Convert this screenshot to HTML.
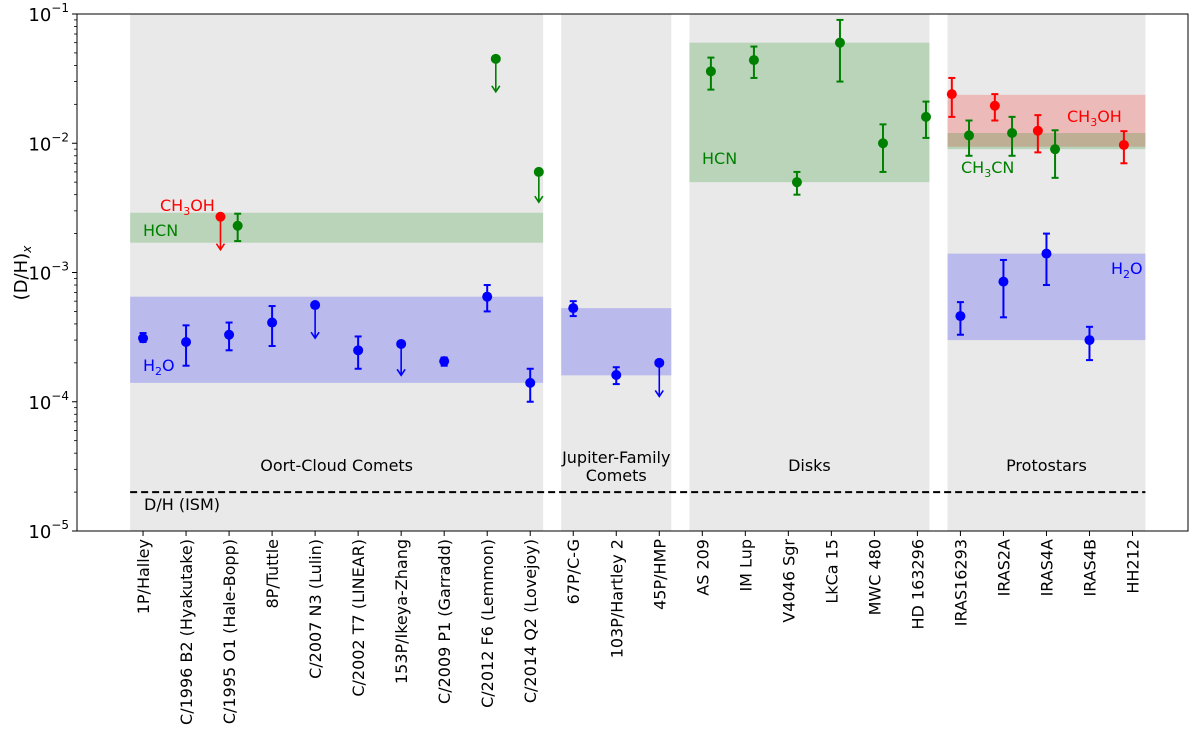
<!DOCTYPE html>
<html><head><meta charset="utf-8"><style>
body{margin:0;background:#fff;}
svg{display:block;font-family:"DejaVu Sans","Liberation Sans",sans-serif;}
</style></head><body>
<svg id="chart" width="1200" height="731" viewBox="0 0 1200 731"></svg>
<script>
const categories=["1P/Halley","C/1996 B2 (Hyakutake)","C/1995 O1 (Hale-Bopp)","8P/Tuttle","C/2007 N3 (Lulin)","C/2002 T7 (LINEAR)","153P/Ikeya-Zhang","C/2009 P1 (Garradd)","C/2012 F6 (Lemmon)","C/2014 Q2 (Lovejoy)","67P/C-G","103P/Hartley 2","45P/HMP","AS 209","IM Lup","V4046 Sgr","LkCa 15","MWC 480","HD 163296","IRAS16293","IRAS2A","IRAS4A","IRAS4B","HH212"];
// [index, value, low, high, upperLimit(1/0), arrowTo]
const h2oPoints=[[0,3.1e-4,2.9e-4,3.4e-4,0,0],[1,2.9e-4,1.9e-4,3.9e-4,0,0],[2,3.3e-4,2.5e-4,4.1e-4,0,0],[3,4.1e-4,2.7e-4,5.5e-4,0,0],[4,5.6e-4,0,0,1,3.1e-4],[5,2.5e-4,1.8e-4,3.2e-4,0,0],[6,2.8e-4,0,0,1,1.6e-4],[7,2.06e-4,1.9e-4,2.2e-4,0,0],[8,6.5e-4,5.0e-4,8.0e-4,0,0],[9,1.4e-4,1.0e-4,1.8e-4,0,0],[10,5.3e-4,4.6e-4,6.0e-4,0,0],[11,1.61e-4,1.37e-4,1.85e-4,0,0],[12,2.0e-4,0,0,1,1.1e-4],[19,4.6e-4,3.3e-4,5.9e-4,0,0],[20,8.5e-4,4.5e-4,1.25e-3,0,0],[21,1.4e-3,8e-4,2.0e-3,0,0],[22,3.0e-4,2.1e-4,3.8e-4,0,0]];
const hcnPoints=[[2,2.3e-3,1.75e-3,2.85e-3,0,0],[8,4.5e-2,0,0,1,2.5e-2],[9,6.0e-3,0,0,1,3.5e-3],[13,3.6e-2,2.6e-2,4.6e-2,0,0],[14,4.4e-2,3.2e-2,5.6e-2,0,0],[15,5.0e-3,4.0e-3,6.0e-3,0,0],[16,6.0e-2,3.0e-2,9.0e-2,0,0],[17,1.0e-2,6.0e-3,1.4e-2,0,0],[18,1.6e-2,1.1e-2,2.1e-2,0,0],[19,1.15e-2,8.0e-3,1.5e-2,0,0],[20,1.2e-2,8.0e-3,1.6e-2,0,0],[21,9.0e-3,5.4e-3,1.26e-2,0,0]];
const ch3ohPoints=[[2,2.7e-3,0,0,1,1.5e-3],[19,2.4e-2,1.6e-2,3.2e-2,0,0],[20,1.95e-2,1.5e-2,2.4e-2,0,0],[21,1.25e-2,8.5e-3,1.65e-2,0,0],[23,9.7e-3,7.0e-3,1.24e-2,0,0]];
// bands: [startIdx, endIdx, low, high]
const h2oBands=[[-0.3,9.3,1.4e-4,6.5e-4],[9.72,12.28,1.6e-4,5.3e-4],[18.7,23.3,3.0e-4,1.4e-3]];
const hcnBands=[[-0.3,9.3,1.7e-3,2.9e-3],[12.7,18.28,5.0e-3,6.0e-2],[18.7,23.3,9.0e-3,1.2e-2]];
const ch3ohBands=[[18.7,23.3,9.4e-3,2.37e-2]];
const groups=[[-0.3,9.3,"Oort-Cloud Comets"],[9.72,12.28,"Jupiter-Family|Comets"],[12.7,18.28,"Disks"],[18.7,23.3,"Protostars"]];
const ismValue=2e-5;
const yTicks=[-5,-4,-3,-2,-1];

const L=77,R=1188,T=14,B=531;
const X0=-1.535,X1=24.29;
function xs(i){return L+(i-X0)/(X1-X0)*(R-L);}
function ys(v){return B-(Math.log10(v)+5)/4*(B-T);}
const svg=document.getElementById('chart');
const NS="http://www.w3.org/2000/svg";
function mk(tag,attrs,parent){const e=document.createElementNS(NS,tag);for(const k in attrs)e.setAttribute(k,attrs[k]);(parent||svg).appendChild(e);return e;}

groups.forEach(g=>{
 const r=mk('rect',{x:xs(g[0]),y:T,width:xs(g[1])-xs(g[0]),height:B-T,fill:'#e9e9e9'});
 
 
});
function bands(arr,color,op,name){arr.forEach(b=>{
 const r=mk('rect',{x:xs(b[0]),y:ys(b[3]),width:xs(b[1])-xs(b[0]),height:ys(b[2])-ys(b[3]),fill:color,'fill-opacity':op});
 
 
});}
bands(h2oBands,'#0000ff',0.2,'h2o-band');
bands(ch3ohBands,'#ff0000',0.2,'ch3oh-band');
bands(hcnBands,'#008000',0.2,'hcn-band');

const ism=mk('line',{x1:xs(-0.3),x2:xs(23.3),y1:ys(ismValue),y2:ys(ismValue),stroke:'#000','stroke-width':2,'stroke-dasharray':'7,4'});



function pts(arr,color,off,name){arr.forEach(p=>{
 const x=xs(p[0]+off),y=ys(p[1]);
 const g=mk('g',{});
 
 
 if(p[4]){
  const y2=ys(p[5]);
  mk('line',{x1:x,x2:x,y1:y,y2:y2,stroke:color,'stroke-width':1.6},g);
  mk('path',{d:`M${x-4},${y2-6} L${x},${y2} L${x+4},${y2-6}`,fill:'none',stroke:color,'stroke-width':1.6},g);
 }else{
  const a=ys(p[3]),b=ys(p[2]);
  mk('line',{x1:x,x2:x,y1:a,y2:b,stroke:color,'stroke-width':2},g);
  mk('line',{x1:x-3.5,x2:x+3.5,y1:a,y2:a,stroke:color,'stroke-width':2},g);
  mk('line',{x1:x-3.5,x2:x+3.5,y1:b,y2:b,stroke:color,'stroke-width':2},g);
 }
 mk('circle',{cx:x,cy:y,r:5,fill:color},g);
});}
pts(h2oPoints,'#0000ff',0,'h2o-point');
pts(hcnPoints,'#008000',0.2,'hcn-point');
pts(ch3ohPoints,'#ff0000',-0.2,'ch3oh-point');

function txt(x,y,s,attrs,name){const t=mk('text',Object.assign({x:x,y:y,'font-size':16},attrs||{}));t.innerHTML=s;return t;}
txt(143,371,'H<tspan font-size="11" dy="4">2</tspan><tspan dy="-4">O</tspan>',{fill:'#0000ff'},'h2o-label-oort');
txt(143,236,'HCN',{fill:'#008000'},'hcn-label-oort');
txt(160,211,'CH<tspan font-size="11" dy="4">3</tspan><tspan dy="-4">OH</tspan>',{fill:'#ff0000'},'ch3oh-label-oort');
txt(702,164,'HCN',{fill:'#008000'},'hcn-label-disks');
txt(1067,122,'CH<tspan font-size="11" dy="4">3</tspan><tspan dy="-4">OH</tspan>',{fill:'#ff0000'},'ch3oh-label-protostars');
txt(961,173,'CH<tspan font-size="11" dy="4">3</tspan><tspan dy="-4">CN</tspan>',{fill:'#008000'},'ch3cn-label-protostars');
txt(1111,274,'H<tspan font-size="11" dy="4">2</tspan><tspan dy="-4">O</tspan>',{fill:'#0000ff'},'h2o-label-protostars');
txt(144,510,'D/H (ISM)',{},'ism-label');
groups.forEach(g=>{
 const parts=g[2].split('|');const cx=(xs(g[0])+xs(g[1]))/2;
 parts.forEach((s,k)=>txt(cx,parts.length>1?463+k*18:471,s,{'text-anchor':'middle'},'group-label'));
});
const fr=mk('rect',{x:L,y:T,width:R-L,height:B-T,fill:'none',stroke:'#000','stroke-width':1});


yTicks.forEach(e=>{
 const y=ys(Math.pow(10,e));
 mk('line',{x1:L-5,x2:L,y1:y,y2:y,stroke:'#000'});
 txt(L-8,y+7,'10<tspan font-size="12" dy="-9">−'+(-e)+'</tspan>',{'text-anchor':'end','font-size':18},'y-tick-label');
 if(e<-1){for(let m=2;m<10;m++){const yy=ys(m*Math.pow(10,e));mk('line',{x1:L-3,x2:L,y1:yy,y2:yy,stroke:'#000','stroke-width':0.8});}}
});
txt(0,0,'(D/H)<tspan font-size="12" dy="4" font-style="italic">x</tspan>',{'text-anchor':'middle','font-size':18,transform:'translate(27,273) rotate(-90)'},'y-axis-title');
categories.forEach((c,i)=>{
 const x=xs(i);
 mk('line',{x1:x,x2:x,y1:B,y2:B+5,stroke:'#000'});
 txt(0,0,c,{'text-anchor':'end','font-size':16,transform:`translate(${x+6},${B+8}) rotate(-90)`},'x-tick-label');
});
</script>
</body></html>
